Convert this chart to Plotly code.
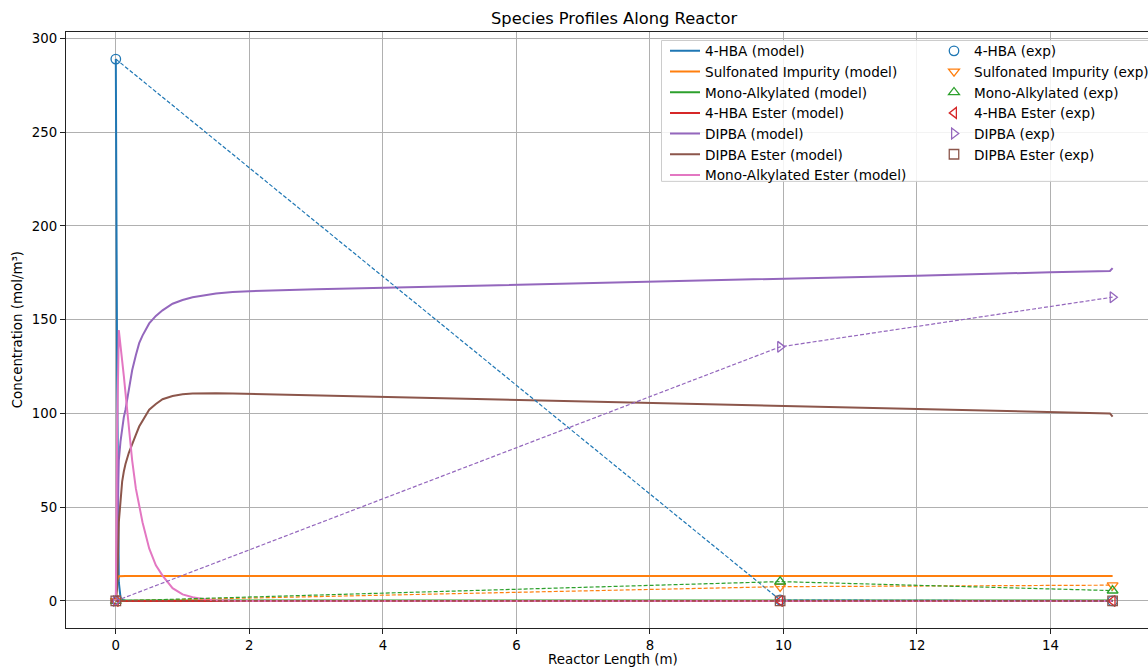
import plotly.graph_objects as go

# ---------------- data ----------------
model_x = [0, 0.02, 0.045, 0.07, 0.095, 0.12, 0.145, 0.195, 0.245, 0.3, 0.35, 0.4, 0.5, 0.6, 0.7, 0.85,
           1.0, 1.15, 1.3, 1.5, 1.75, 2, 3, 4, 6, 8, 10, 12, 14, 14.89, 14.93]
hba_model = [289, 120, 10, 2, 0.5, 0.2, 0.1, 0, 0, 0, 0, 0, 0, 0, 0, 0,
             0, 0, 0, 0, 0, 0, 0, 0, 0, 0, 0, 0, 0, 0, 0]
sulf_model = [0, 11, 13.2, 13.3, 13.3, 13.3, 13.3, 13.3, 13.3, 13.3, 13.3, 13.3, 13.3, 13.3, 13.3, 13.3,
              13.3, 13.3, 13.3, 13.3, 13.3, 13.3, 13.3, 13.3, 13.3, 13.3, 13.3, 13.3, 13.3, 13.3, 13.3]
mono_model = [0, 0.1, 0.2, 0.2, 0.2, 0.2, 0.2, 0.2, 0.2, 0.2, 0.2, 0.2, 0.2, 0.2, 0.2, 0.2,
              0.2, 0.2, 0.2, 0.2, 0.2, 0.2, 0.2, 0.2, 0.2, 0.2, 0.2, 0.2, 0.2, 0.2, 0.2]
hbaester_model = [0, 0, 0, 0, 0, 0, 0, 0, 0, 0, 0, 0, 0, 0, 0, 0,
                  0, 0, 0, 0, 0, 0, 0, 0, 0, 0, 0, 0, 0, 0, 0]
dipba_model = [0, 40, 75, 85, 93, 98, 102, 113, 123, 131, 137.5, 141.5, 148, 152, 155, 158.5,
               160.5, 162, 163, 164, 164.8, 165.2, 166.2, 167, 168.5, 170, 171.8, 173.5, 175.3, 176, 177.5]
dipbaester_model = [0, 7, 42, 55, 63.6, 69, 73, 79, 84, 88.5, 93, 96, 102, 105, 107.6, 109.3,
                    110.2, 110.6, 110.8, 110.8, 110.6, 110.4, 109.6, 108.8, 107.2, 105.6, 104, 102.3, 100.6, 100, 98.3]
monoester_model = [0, 90, 144.5, 137, 128.5, 120, 111, 93, 75, 60, 50, 42, 28, 19, 13.5, 6.8,
                   3.5, 2, 1, 0.4, 0.1, 0, 0, 0, 0, 0, 0, 0, 0, 0, 0]

exp_x = [0, 9.95, 14.93]
hba_exp = [289, 0.5, 0]
sulf_exp = [0, 7.6, 8.4]
mono_exp = [0, 10.3, 5.5]
hbaester_exp = [0, 0, 0]
dipba_exp = [0, 135.5, 162]
dipbaester_exp = [0, 0, 0]

species = ["4-HBA", "Sulfonated Impurity", "Mono-Alkylated", "4-HBA Ester", "DIPBA", "DIPBA Ester", "Mono-Alkylated Ester"]
model_series = [hba_model, sulf_model, mono_model, hbaester_model, dipba_model, dipbaester_model, monoester_model]
exp_series = [hba_exp, sulf_exp, mono_exp, hbaester_exp, dipba_exp, dipbaester_exp]
colors = ["#1f77b4", "#ff7f0e", "#2ca02c", "#d62728", "#9467bd", "#8c564b", "#e377c2"]
exp_symbols = ["circle-open", "triangle-down-open", "triangle-up-open", "triangle-left-open", "triangle-right-open", "square-open"]

x_ticks = [0, 2, 4, 6, 8, 10, 12, 14]
y_ticks = [0, 50, 100, 150, 200, 250, 300]

FONT = "DejaVu Sans"
OFF = 0  # body margin removed via post_script
W, H = 1148, 669
# plot-area edges in page pixels
P_L, P_R, P_T, P_B = 66, 1148, 31.5, 628
ML, MR, MT, MB = P_L - OFF, 0, P_T - OFF, (H + OFF) - P_B
PW = W - ML - MR
PH = H - MT - MB

def px_x(p):  # page px -> paper x
    return (p - P_L) / PW

def px_y(p):  # page px -> paper y
    return (P_B - p) / PH

fig = go.Figure()

for name, ys, c in zip(species, model_series, colors):
    fig.add_trace(go.Scatter(x=model_x, y=ys, mode="lines", name=f"{name} (model)",
                             line=dict(color=c, width=2), legend="legend"))

for name, ys, c in zip(species, exp_series, colors):
    fig.add_trace(go.Scatter(x=exp_x, y=ys, mode="lines", showlegend=False,
                             line=dict(color=c, width=1.2, dash="4px,2px"), hoverinfo="skip"))
for name, ys, c, sym in zip(species, exp_series, colors, exp_symbols):
    fig.add_trace(go.Scatter(x=exp_x, y=ys, mode="markers", name=f"{name} (exp)",
                             marker=dict(symbol=sym, size=9.5, color=c, line=dict(color=c, width=1.3)),
                             legend="legend2"))

axis_common = dict(showgrid=True, gridcolor="#b0b0b0", gridwidth=1, zeroline=False,
                   showline=True, linecolor="#222", linewidth=1.2, mirror=True,
                   ticks="outside", ticklen=5, tickcolor="#222",
                   tickfont=dict(family=FONT, size=13.3, color="#000"))

fig.update_layout(
    width=W, height=H,
    margin=dict(l=ML, r=MR, t=MT, b=MB, autoexpand=False),
    paper_bgcolor="white", plot_bgcolor="white",
    font=dict(family=FONT, color="#000"),
    xaxis=dict(range=[-0.746, 15.46], tickvals=x_ticks, **axis_common),
    yaxis=dict(range=[-14.45, 303.45], tickvals=y_ticks, **axis_common),
    legend=dict(x=px_x(665), y=px_y(35), xanchor="left", yanchor="top",
                bgcolor="rgba(0,0,0,0)", borderwidth=0,
                font=dict(family=FONT, size=13.6, color="#000"), tracegroupgap=0),
    legend2=dict(x=px_x(934), y=px_y(35), xanchor="left", yanchor="top",
                 bgcolor="rgba(0,0,0,0)", borderwidth=0,
                 font=dict(family=FONT, size=13.6, color="#000"), tracegroupgap=0),
    showlegend=True,
    shapes=[dict(type="rect", xref="paper", yref="paper",
                 x0=px_x(661.5), x1=px_x(1170), y0=px_y(181), y1=px_y(40),
                 line=dict(color="#cccccc", width=1), fillcolor="rgba(255,255,255,0.85)",
                 layer="above")],
    annotations=[
        dict(text="Species Profiles Along Reactor", xref="paper", yref="paper",
             x=px_x(613.5), y=px_y(18), xanchor="center", yanchor="middle", showarrow=False,
             font=dict(family=FONT, size=16.3, color="#000")),
        dict(text="Reactor Length (m)", xref="paper", yref="paper",
             x=px_x(613), y=px_y(660), xanchor="center", yanchor="middle", showarrow=False,
             font=dict(family=FONT, size=13.4, color="#000")),
        dict(text="Concentration (mol/m³)", xref="paper", yref="paper", textangle=-90,
             x=px_x(17), y=px_y(330), xanchor="center", yanchor="middle", showarrow=False,
             font=dict(family=FONT, size=13.4, color="#000")),
    ],
)

fig.write_html("out.html", config={"displayModeBar": False},
               post_script="document.body.style.margin='0px';document.body.style.overflow='hidden';")
